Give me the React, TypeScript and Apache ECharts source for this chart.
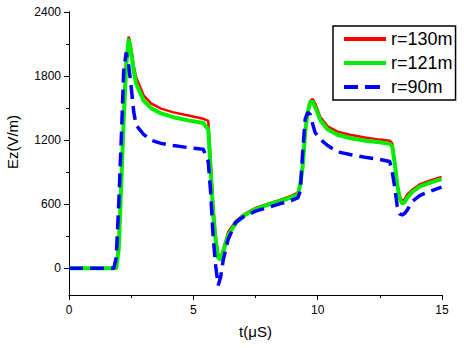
import React, { useEffect, useRef } from "react";
import * as echarts from "echarts";

const times = [0, 1.8, 1.9, 2.0, 2.1, 2.2, 2.3, 2.4, 2.5, 2.6, 2.7, 3.0, 3.3, 3.7, 4.2, 4.8, 5.4, 5.6, 5.7, 5.8, 5.9, 6.0, 6.1, 6.2, 6.4, 6.7, 7.0, 7.5, 8.0, 8.5, 9.0, 9.2, 9.3, 9.4, 9.5, 9.6, 9.7, 9.8, 9.9, 10.1, 10.4, 10.8, 11.3, 11.9, 12.5, 12.9, 13.0, 13.1, 13.2, 13.3, 13.4, 13.5, 13.6, 13.8, 14.1, 14.5, 14.98];

const r130 = [0, 0, 0, 250, 850, 1450, 1950, 2170, 2060, 1900, 1790, 1620, 1545, 1495, 1460, 1430, 1400, 1380, 1000, 600, 300, 130, 95, 180, 340, 440, 500, 565, 605, 640, 685, 710, 800, 980, 1300, 1480, 1565, 1585, 1545, 1420, 1330, 1280, 1250, 1225, 1205, 1195, 1170, 1000, 800, 680, 625, 650, 690, 735, 785, 820, 855];
const r121 = [0, 0, 0, 180, 780, 1400, 1900, 2150, 2020, 1850, 1730, 1570, 1500, 1450, 1415, 1385, 1360, 1300, 900, 500, 250, 100, 80, 150, 310, 420, 490, 555, 595, 630, 670, 690, 780, 960, 1280, 1460, 1555, 1560, 1510, 1390, 1300, 1250, 1220, 1195, 1180, 1165, 1140, 980, 780, 650, 605, 620, 660, 715, 765, 800, 835];
const r90 = [0, 0, 100, 600, 1200, 1850, 2020, 1900, 1700, 1470, 1340, 1255, 1200, 1170, 1150, 1130, 1115, 1000, 700, 280, 20, -160, -80, 75, 270, 430, 480, 535, 570, 605, 640, 660, 720, 1100, 1400, 1460, 1440, 1350, 1270, 1210, 1150, 1090, 1065, 1040, 1020, 1000, 900, 760, 580, 510, 500, 515, 545, 625, 680, 720, 760];

const yMajor = [0, 600, 1200, 1800, 2400];
const yMinor = [300, 900, 1500, 2100];
const seriesNames = ["r=130m", "r=121m", "r=90m"];

const FONT = "Liberation Sans, Arial, sans-serif";
const SOLID_ICON = "path://M0,0H42V4H0Z";
const DASH_ICON = "path://M0,0H14V4H0Z M21,0H36V4H21Z M41,0H42V0.01H41Z";

export default function App() {
  const ref = useRef<HTMLDivElement>(null);
  useEffect(() => {
    const chart = echarts.init(ref.current!, null, { renderer: "svg" });
    const pts = (vals: number[]) => times.map((t, i) => [t, vals[i]]);
    const yBase = {
      type: "value",
      min: -250,
      max: 2400,
      splitLine: { show: false },
      axisLine: { show: true, onZero: false, lineStyle: { color: "#000", width: 1 } },
    };
    chart.setOption({
      animation: false,
      backgroundColor: "#fff",
      textStyle: { fontFamily: FONT },
      grid: { left: 69, right: 22, top: 12, bottom: 53, containLabel: false, outerBoundsMode: "none" },
      xAxis: {
        type: "value",
        min: 0,
        max: 15,
        interval: 5,
        name: "t(\u03bcS)",
        nameLocation: "middle",
        nameGap: 29,
        nameTextStyle: { fontSize: 15, color: "#000", fontFamily: FONT },
        splitLine: { show: false },
        axisLine: { show: true, onZero: false, lineStyle: { color: "#000", width: 1 } },
        axisTick: { show: true, inside: false, length: 5, lineStyle: { color: "#000" } },
        minorTick: { show: true, splitNumber: 2, length: 3, lineStyle: { color: "#000" } },
        axisLabel: { fontSize: 12, color: "#000", margin: 9, fontFamily: FONT, formatter: (v: number) => String(v) },
      },
      yAxis: [
        {
          ...yBase,
          axisTick: { show: true, inside: false, length: 5, customValues: yMajor, lineStyle: { color: "#000" } },
          axisLabel: {
            fontSize: 12,
            color: "#000",
            margin: 8,
            customValues: yMajor,
            fontFamily: FONT,
            formatter: (v: number) => String(v),
          },
        },
        {
          ...yBase,
          position: "left",
          axisTick: { show: true, inside: false, length: 3, customValues: yMinor, lineStyle: { color: "#000" } },
          axisLabel: { show: false },
        },
      ],
      legend: {
        orient: "vertical",
        left: 333,
        top: 26,
        padding: [4, 3, 4, 11],
        itemGap: 6,
        itemWidth: 42,
        itemHeight: 4,
        borderColor: "#000",
        borderWidth: 1.5,
        borderRadius: 0,
        textStyle: { fontSize: 18, color: "#000", fontFamily: FONT, lineHeight: 18 },
        data: [
          { name: seriesNames[0], icon: SOLID_ICON },
          { name: seriesNames[1], icon: SOLID_ICON },
          { name: seriesNames[2], icon: DASH_ICON },
        ],
      },
      graphic: [
        {
          type: "text",
          x: 12,
          y: 142,
          rotation: Math.PI / 2,
          style: {
            text: "Ez(V/m)",
            fontSize: 15,
            fontFamily: FONT,
            fill: "#000",
            align: "center",
            verticalAlign: "middle",
          },
        },
      ],
      series: [
        {
          name: seriesNames[0],
          type: "line",
          data: pts(r130),
          symbol: "none",
          lineStyle: { color: "#ff0000", width: 2.5 },
          itemStyle: { color: "#ff0000" },
        },
        {
          name: seriesNames[1],
          type: "line",
          data: pts(r121),
          symbol: "none",
          lineStyle: { color: "#00ee00", width: 4 },
          itemStyle: { color: "#00ee00" },
        },
        {
          name: seriesNames[2],
          type: "line",
          data: pts(r90),
          symbol: "none",
          lineStyle: { color: "#0000ff", width: 3.5, type: [14, 7] },
          itemStyle: { color: "#0000ff" },
        },
      ],
    });
    return () => chart.dispose();
  }, []);
  return <div ref={ref} style={{ position: "fixed", left: 0, top: 0, width: 464, height: 348 }} />;
}
